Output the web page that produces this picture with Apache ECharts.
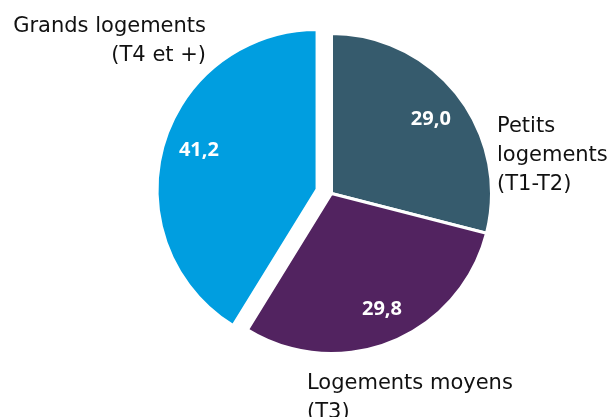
<!DOCTYPE html>
<html>
<head>
<meta charset="utf-8">
<script src="https://cdn.jsdelivr.net/npm/echarts@6/dist/echarts.min.js"></script>
<style>
  html, body { margin: 0; padding: 0; background: #ffffff; }
  #chart { width: 614px; height: 417px; }
</style>
</head>
<body>
<div id="chart"></div>
<script>
// Répartition des logements par taille (%)
const categories = ['Petits\nlogements\n(T1-T2)', 'Logements moyens\n(T3)', 'Grands logements\n(T4 et +)'];
const shares = [29.0, 29.8, 41.2];
const sliceColors = ['#365B6D', '#522360', '#009EE0'];
const explodedIndex = 2;

// Where each category name sits around the pie
const namePlacement = [
  { x: 497, y: 112, align: 'left' },
  { x: 307, y: 369, align: 'left' },
  { x: 206, y: 12, align: 'right' }
];
// Small nudges for the value labels inside the slices
const valueNudge = [[-1, 4], [3, -2], [4, -4]];

const pieCenter = [331.5, 193.5];
const pieRadius = 160;
const offset = 15;

const fmtValue = v => v.toFixed(1).replace('.', ',');

function sliceData(fill, withSelection) {
  return categories.map((name, i) => ({
    name: name,
    value: shares[i],
    selected: withSelection && i === explodedIndex,
    itemStyle: { color: fill ? sliceColors[i] : 'rgba(0,0,0,0)' }
  }));
}

const common = {
  type: 'pie',
  center: pieCenter,
  startAngle: 90,
  clockwise: true,
  silent: true,
  emphasis: { disabled: true },
  labelLine: { show: false }
};

const chart = echarts.init(document.getElementById('chart'), null, { renderer: 'canvas' });
chart.setOption({
  animation: false,
  backgroundColor: '#ffffff',
  series: [
    Object.assign({}, common, {
      // visible slices, the large-dwellings slice pulled out
      radius: pieRadius,
      selectedMode: 'single',
      selectedOffset: offset,
      itemStyle: { borderColor: '#ffffff', borderWidth: 3 },
      label: { show: false },
      data: sliceData(true, true)
    }),
    Object.assign({}, common, {
      // transparent ring carrying the value labels
      radius: [88, pieRadius],
      selectedMode: 'single',
      selectedOffset: offset,
      z: 3,
      itemStyle: { borderWidth: 0 },
      label: {
        show: true,
        position: 'inside',
        formatter: p => fmtValue(p.value),
        color: '#ffffff',
        fontFamily: 'Open Sans',
        fontWeight: 'bold',
        fontSize: 20
      },
      labelLayout: function (params) {
        const n = valueNudge[params.dataIndex];
        return { dx: n[0], dy: n[1] };
      },
      data: sliceData(false, true)
    }),
    Object.assign({}, common, {
      // transparent pie carrying the category names
      radius: pieRadius,
      selectedMode: false,
      z: 3,
      itemStyle: { borderWidth: 0 },
      label: {
        show: true,
        position: 'outside',
        formatter: '{b}',
        overflow: 'none',
        color: '#111111',
        fontFamily: 'DejaVu Sans',
        fontSize: 21,
        lineHeight: 29
      },
      labelLayout: function (params) {
        const p = namePlacement[params.dataIndex];
        return { x: p.x, y: p.y, align: p.align, verticalAlign: 'top' };
      },
      data: sliceData(false, false)
    })
  ]
});
</script>
</body>
</html>
